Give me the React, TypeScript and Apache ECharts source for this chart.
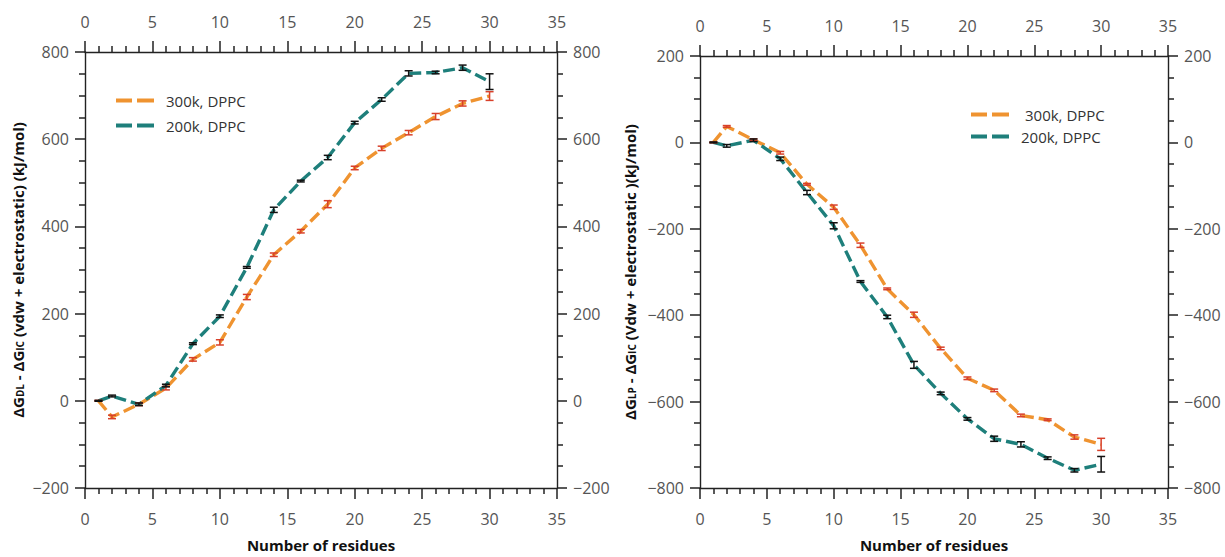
import React, { useEffect, useRef } from "react";
import * as echarts from "echarts";

const residues = [1, 2, 4, 6, 8, 10, 12, 14, 16, 18, 20, 22, 24, 26, 28, 30];

// Left panel: ΔG_DL - ΔG_IC
const dl300 = [0, -37, -8, 29, 95, 134, 238, 335, 389, 451, 534, 579, 615, 652, 682, 699];
const dl300Err = [1, 4, 3, 4, 4, 6, 6, 4, 4, 8, 4, 5, 5, 7, 6, 10];
const dl200 = [0, 11, -8, 35, 131, 194, 306, 438, 504, 558, 638, 691, 751, 753, 764, 732];
const dl200Err = [1, 2, 3, 3, 2, 3, 2, 6, 2, 5, 3, 4, 6, 3, 6, 18];

// Right panel: ΔG_LP - ΔG_IC
const lp300 = [0, 37, 6, -24, -97, -150, -238, -339, -399, -477, -546, -574, -632, -642, -682, -699];
const lp300Err = [1, 2, 2, 3, 2, 5, 5, 2, 6, 3, 3, 3, 3, 2, 5, 14];
const lp200 = [0, -8, 5, -38, -116, -193, -322, -404, -515, -581, -640, -686, -699, -731, -759, -745];
const lp200Err = [1, 3, 3, 4, 5, 7, 2, 4, 8, 3, 3, 6, 6, 3, 4, 18];

const seriesNames = ["300k, DPPC", "200k, DPPC"];
const xTicks = { min: 0, max: 35, interval: 5 };
const leftY = { min: -200, max: 800, interval: 200 };
const rightY = { min: -800, max: 200, interval: 200 };

const ORANGE = "#ef9330";
const TEAL = "#1e7f7b";
const ERR_RED = "#d8402a";
const ERR_BLACK = "#111111";
const FONT = "Open Sans";
const AXIS_COLOR = "#222222";
const LABEL_COLOR = "#555555";
const DASH_ICON = "path://M0,0h16v4h-16z M21,0h17v4h-17z";

function pairs(xs: number[], ys: number[]) {
  return xs.map((x, i) => [x, ys[i]]);
}
function errs(xs: number[], ys: number[], es: number[]) {
  return xs.map((x, i) => [x, ys[i] - es[i], ys[i] + es[i]]);
}
const minusFmt = (v: number) => String(v).replace("-", "\u2212");

function lineSeries(name: string, data: number[][], color: string, gi: number) {
  return {
    type: "line",
    name,
    data,
    xAxisIndex: gi * 2,
    yAxisIndex: gi * 2,
    symbol: "none",
    showSymbol: false,
    lineStyle: { color, width: 3.4, type: [12, 5] },
    itemStyle: { color },
    z: 2,
  };
}

function errSeries(data: number[][], color: string, gi: number) {
  return {
    type: "custom",
    xAxisIndex: gi * 2,
    yAxisIndex: gi * 2,
    data,
    encode: { x: 0, y: [1, 2] },
    z: 5,
    renderItem: (params: any, api: any) => {
      const x = api.value(0);
      const p1 = api.coord([x, api.value(1)]);
      const p2 = api.coord([x, api.value(2)]);
      const hw = 4;
      const style = { stroke: color, lineWidth: 1.5 };
      return {
        type: "group",
        children: [
          { type: "line", shape: { x1: p1[0], y1: p1[1], x2: p2[0], y2: p2[1] }, style },
          { type: "line", shape: { x1: p1[0] - hw, y1: p1[1], x2: p1[0] + hw, y2: p1[1] }, style },
          { type: "line", shape: { x1: p2[0] - hw, y1: p2[1], x2: p2[0] + hw, y2: p2[1] }, style },
        ],
      };
    },
  };
}

function xAxisDef(gi: number, position: "bottom" | "top") {
  return {
    type: "value",
    gridIndex: gi,
    position,
    ...xTicks,
    name: position === "bottom" ? "Number of residues" : "",
    nameLocation: "middle",
    nameGap: 49,
    nameTextStyle: { fontFamily: FONT, fontSize: 15, fontWeight: "bold", color: "#111" },
    axisLine: { show: true, onZero: false, lineStyle: { color: AXIS_COLOR, width: 1.4 } },
    axisTick: { show: true, inside: false, length: 11, lineStyle: { color: AXIS_COLOR, width: 1.5 } },
    minorTick: { show: true, splitNumber: 5, length: 6, lineStyle: { color: AXIS_COLOR, width: 1.5 } },
    splitLine: { show: false },
    minorSplitLine: { show: false },
    axisLabel: { fontFamily: FONT, fontSize: 16, color: LABEL_COLOR, margin: position === "bottom" ? 23 : 22 },
  };
}

function yAxisDef(gi: number, position: "left" | "right", range: any, name: string, gap: number) {
  return {
    type: "value",
    gridIndex: gi,
    position,
    ...range,
    name: position === "left" ? name : "",
    nameLocation: "middle",
    nameGap: gap,
    nameTextStyle: {
      fontFamily: FONT,
      fontSize: 15,
      fontWeight: "bold",
      color: "#111",
      rich: {
        sub: { fontFamily: FONT, fontSize: 10, fontWeight: "bold", color: "#111", verticalAlign: "bottom", padding: [5, 0, 0, 0] },
      },
    },
    axisLine: { show: true, onZero: false, lineStyle: { color: AXIS_COLOR, width: 1.4 } },
    axisTick: { show: true, inside: false, length: 10, lineStyle: { color: AXIS_COLOR, width: 1.5 } },
    minorTick: { show: true, splitNumber: 4, length: 6, lineStyle: { color: AXIS_COLOR, width: 1.5 } },
    splitLine: { show: false },
    minorSplitLine: { show: false },
    axisLabel: { fontFamily: FONT, fontSize: 16, color: LABEL_COLOR, margin: 16, formatter: minusFmt },
  };
}

export default function App() {
  const ref = useRef<HTMLDivElement>(null);
  useEffect(() => {
    if (!ref.current) return;
    const chart = echarts.init(ref.current, undefined, { renderer: "svg" });
    const option: any = {
      animation: false,
      backgroundColor: "#ffffff",
      grid: [
        { left: 85, top: 52, width: 472, height: 438 },
        { left: 700, top: 56, width: 468, height: 435 },
      ],
      xAxis: [xAxisDef(0, "bottom"), xAxisDef(0, "top"), xAxisDef(1, "bottom"), xAxisDef(1, "top")],
      yAxis: [
        yAxisDef(0, "left", leftY, "ΔG{sub|DL} - ΔG{sub|IC} (vdw + electrostatic) (kJ/mol)", 60),
        yAxisDef(0, "right", leftY, "", 0),
        yAxisDef(1, "left", rightY, "ΔG{sub|LP} - ΔG{sub|IC} (Vdw + electrostatic )(kJ/mol)", 63),
        yAxisDef(1, "right", rightY, "", 0),
      ],
      legend: [
        {
          left: 116,
          top: 90,
          padding: 0,
          orient: "vertical",
          icon: DASH_ICON,
          itemWidth: 38,
          itemHeight: 4,
          itemGap: 4,
          data: seriesNames,
          textStyle: { fontFamily: FONT, fontSize: 15, color: "#333", padding: [0, 0, 0, 7], lineHeight: 21 },
        },
        {
          left: 971,
          top: 104,
          padding: 0,
          orient: "vertical",
          icon: DASH_ICON,
          itemWidth: 38,
          itemHeight: 4,
          itemGap: 1,
          data: [
            { name: seriesNames[0], textStyle: { padding: [0, 0, 0, 11] } },
            { name: seriesNames[1], textStyle: { padding: [0, 0, 0, 7] } },
          ],
          textStyle: { fontFamily: FONT, fontSize: 15, color: "#333", lineHeight: 21 },
        },
      ],
      series: [
        lineSeries(seriesNames[0], pairs(residues, dl300), ORANGE, 0),
        lineSeries(seriesNames[1], pairs(residues, dl200), TEAL, 0),
        errSeries(errs(residues, dl300, dl300Err), ERR_RED, 0),
        errSeries(errs(residues, dl200, dl200Err), ERR_BLACK, 0),
        lineSeries(seriesNames[0], pairs(residues, lp300), ORANGE, 1),
        lineSeries(seriesNames[1], pairs(residues, lp200), TEAL, 1),
        errSeries(errs(residues, lp300, lp300Err), ERR_RED, 1),
        errSeries(errs(residues, lp200, lp200Err), ERR_BLACK, 1),
      ],
    };
    chart.setOption(option);
    return () => chart.dispose();
  }, []);
  return (
    <div
      ref={ref}
      style={{ position: "fixed", left: 0, top: 0, width: 1225, height: 557, background: "#fff" }}
    />
  );
}
